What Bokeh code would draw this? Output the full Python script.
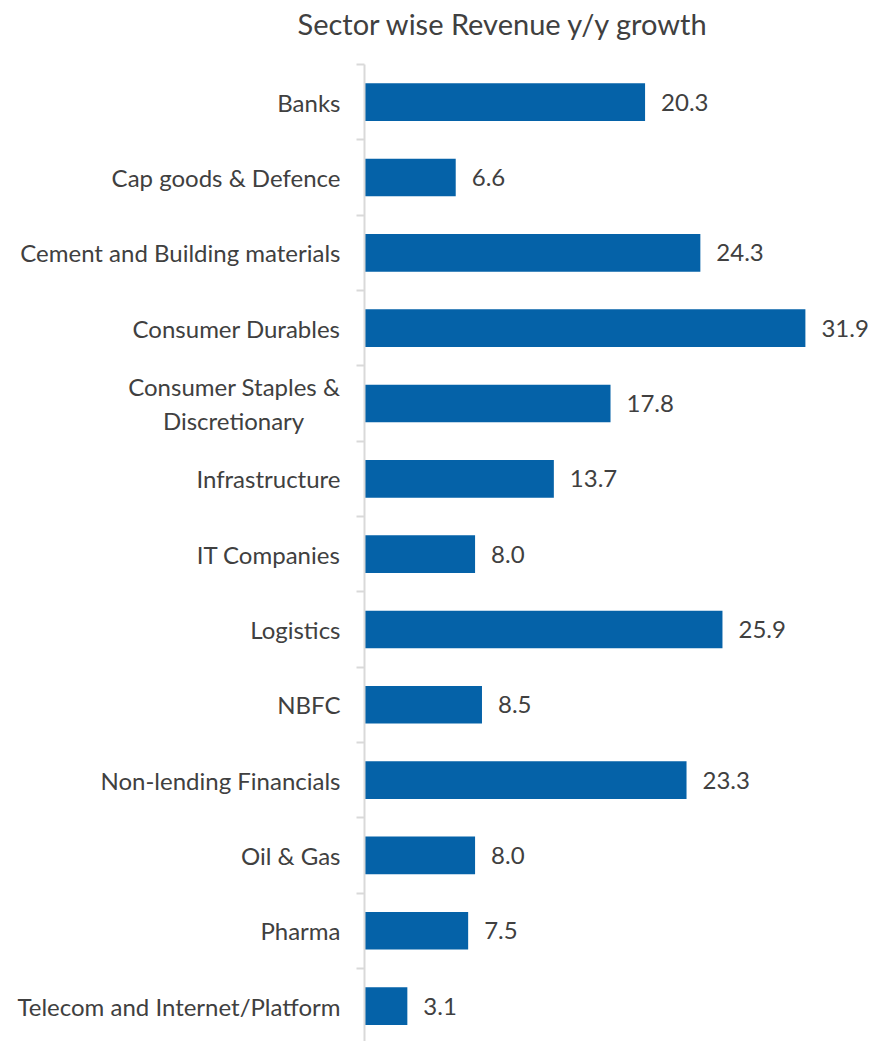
from bokeh.plotting import figure
from bokeh.models import Range1d, FixedTicker, ColumnDataSource, LinearAxis, Title
from bokeh.core.properties import value
from bokeh.embed import file_html
from bokeh.resources import INLINE

title_text = "Sector wise Revenue y/y growth"
categories = ["Banks", "Cap goods & Defence", "Cement and Building materials",
              "Consumer Durables", "Consumer Staples &\nDiscretionary\u00a0\u00a0\u00a0\u00a0\u00a0\u00a0", "Infrastructure",
              "IT Companies", "Logistics", "NBFC", "Non-lending Financials",
              "Oil & Gas", "Pharma", "Telecom and Internet/Platform"]
growth = [20.3, 6.6, 24.3, 31.9, 17.8, 13.7, 8.0, 25.9, 8.5, 23.3, 8.0, 7.5, 3.1]

n = len(categories)
ypos = [n - i - 0.5 for i in range(n)]
boundaries = [float(i) for i in range(n + 1)]

src = ColumnDataSource(dict(y=ypos, v=growth, lbl=[f"{g:.1f}" for g in growth]))

TXT = "#404040"
BAR = "#0562A8"
AX = "#D9D9D9"

p = figure(width=874, height=1041, x_range=Range1d(0, 36.9), y_range=Range1d(0.03, 13),
           output_backend="svg", toolbar_location=None,
           x_axis_location=None, y_axis_location=None,
           min_border_left=364, min_border_right=0, min_border_top=64, min_border_bottom=0)
p.outline_line_color = None
p.xgrid.visible = False
p.ygrid.visible = False

p.hbar(y="y", right="v", left=0, height=0.5, source=src, fill_color=BAR, line_color=None)
p.text(x="v", y="y", text="lbl", source=src, x_offset=16, text_baseline="middle",
       text_font=value("Lato"), text_font_size="24px", text_color=TXT)

yaxis = LinearAxis(ticker=FixedTicker(ticks=ypos, minor_ticks=boundaries))
yaxis.major_label_overrides = {y: c for y, c in zip(ypos, categories)}
yaxis.major_tick_line_color = None
yaxis.major_tick_out = 0
yaxis.major_tick_in = 0
yaxis.minor_tick_out = 8
yaxis.minor_tick_in = 0
yaxis.minor_tick_line_color = AX
yaxis.minor_tick_line_width = 2
yaxis.axis_line_color = AX
yaxis.axis_line_width = 2
yaxis.major_label_standoff = 16
yaxis.major_label_text_font = "Lato"
yaxis.major_label_text_font_size = "24px"
yaxis.major_label_text_color = TXT
p.add_layout(yaxis, "left")

# empty spacer between the title and the plot frame
spacer = Title(text="\u00a0", text_font_size="20px", standoff=0)
p.add_layout(spacer, "above")

p.title.text = title_text
p.title.text_font = "Lato"
p.title.text_font_size = "29px"
p.title.text_font_style = "normal"
p.title.text_color = TXT
p.title.align = "left"
p.title.offset = -67
p.title.standoff = 0

open("out.html", "w").write(file_html(p, INLINE))
